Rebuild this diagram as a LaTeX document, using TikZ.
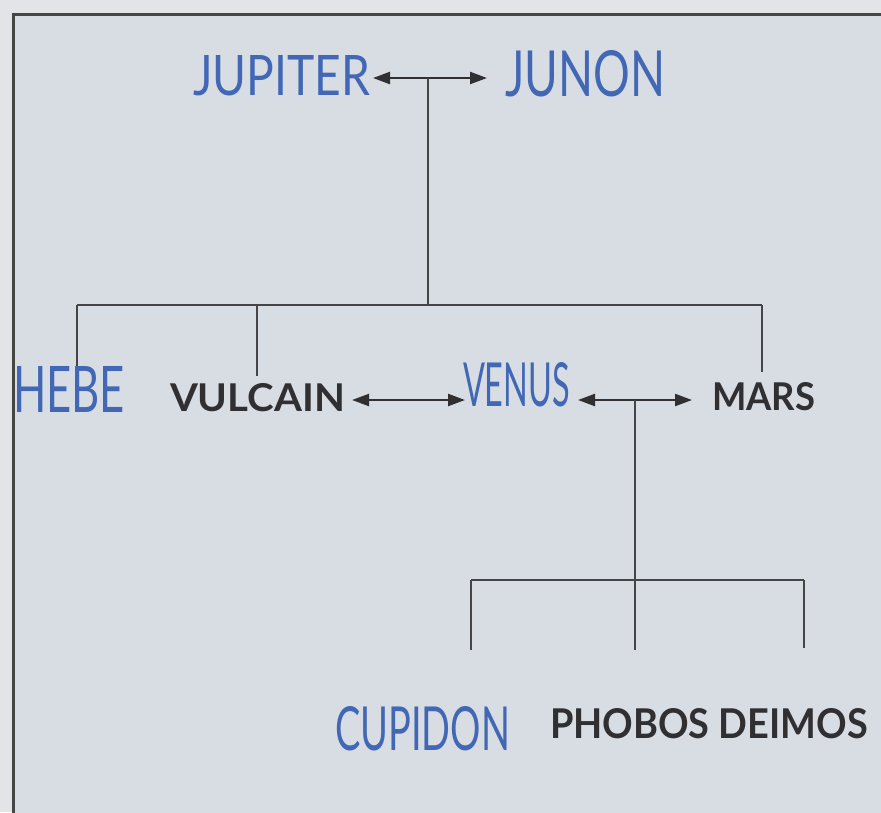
\documentclass[tikz,border=0pt]{standalone}
\usepackage{fontspec}
\usepackage{graphicx}
\setmainfont{Lato}
\newfontfamily\handfont{Lato}
\usetikzlibrary{arrows.meta}
\definecolor{paper}{HTML}{D8DCE3}
\definecolor{paperout}{HTML}{E2E4E8}
\definecolor{ink}{HTML}{303032}
\definecolor{penblue}{HTML}{4268B5}
\tikzset{
  lbl/.style={inner sep=0pt, outer sep=0pt},
  link/.style={draw=ink!90, line width=2.3pt},
  marriage/.style={draw=ink, line width=2.3pt, {Triangle[length=17pt,width=12pt]}-{Triangle[length=17pt,width=12pt]}},
}
\newcommand{\bluetxt}[3]{\resizebox{#1pt}{#2pt}{\handfont\color{penblue}#3}}
\newcommand{\blacktxt}[3]{\resizebox{#1pt}{#2pt}{\color{ink}\bfseries #3}}
\begin{document}
\begin{tikzpicture}[x=1pt,y=-1pt]
\useasboundingbox (0,0) rectangle (881,812);
\fill[paperout] (0,0) rectangle (881,812);
\fill[paper] (13,14) rectangle (900,830);
\draw[ink!90, line width=3pt] (13,830) -- (13,14) -- (900,14);

% labels
\node[lbl, anchor=west] (jup) at (193,76) {\bluetxt{177}{40}{JUPITER}};
\node[lbl, anchor=west] (jun) at (505,74) {\bluetxt{160}{46}{JUNON}};
\node[lbl, anchor=west] (hebe) at (13,389) {\bluetxt{112}{46}{HEBE}};
\node[lbl, anchor=west] (vul) at (170,398) {\blacktxt{175}{28}{VULCAIN}};
\node[lbl, anchor=west] (ven) at (463,385) {\bluetxt{107}{44}{VENUS}};
\node[lbl, anchor=west] (mars) at (712,397) {\blacktxt{103}{28}{MARS}};
\node[lbl, anchor=west] (cup) at (335,729) {\bluetxt{175}{44}{CUPIDON}};
\node[lbl, anchor=west] (pho) at (550,724) {\blacktxt{318}{30}{PHOBOS DEIMOS}};

% couples
\draw[marriage] ([xshift=3pt]jup.east |- 0,78) -- ([xshift=-18pt]jun.west |- 0,78);
\draw[marriage] ([xshift=7pt]vul.east |- 0,400) -- ([xshift=2pt]ven.west |- 0,400);
\draw[marriage] ([xshift=8pt]ven.east |- 0,400) -- ([xshift=-20pt]mars.west |- 0,400);

% first family
\coordinate (c1) at (428,78);
\coordinate (b1) at (428,305);
\coordinate (b1l) at (77,305);
\coordinate (b1r) at (762,305);
\draw[link] (c1) -- (b1);
\draw[link] (b1l) -- (b1r);
\draw[link] (b1l) -- (77,366);
\draw[link] (257,305) -- (257,376);
\draw[link] (b1r) -- (762,372);

% second family
\coordinate (c2) at (635,400);
\coordinate (b2) at (635,580);
\coordinate (b2l) at (471,580);
\coordinate (b2r) at (804,580);
\draw[link] (c2) -- (b2);
\draw[link] (b2l) -- (b2r);
\draw[link] (b2l) -- (471,650);
\draw[link] (b2) -- (635,650);
\draw[link] (b2r) -- (804,648);
\end{tikzpicture}
\end{document}
